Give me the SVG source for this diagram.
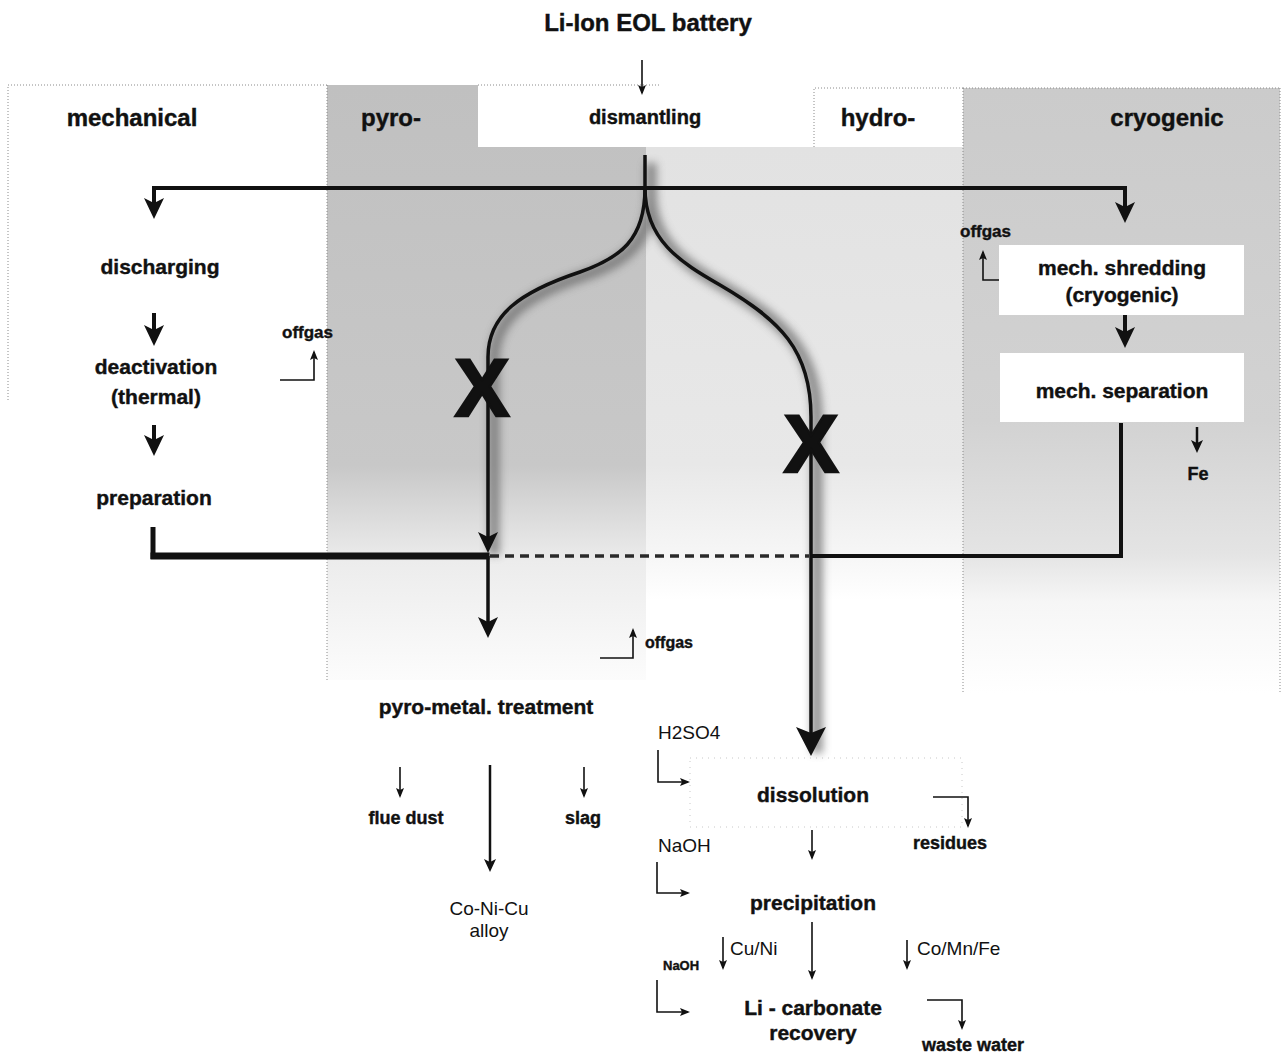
<svg xmlns="http://www.w3.org/2000/svg" width="1282" height="1054" viewBox="0 0 1282 1054">
<defs>
  <style>
    .b { font-family: "Liberation Sans", Arial, sans-serif; font-weight: bold; fill: #111; stroke: #111; stroke-width: 0.4; }
    .r { font-family: "Liberation Sans", Arial, sans-serif; font-weight: normal; fill: #111; }
    .mid { text-anchor: middle; }
    .x { stroke-width: 2.5; }
    .dot { fill: none; stroke: #8a8a8a; stroke-width: 1; stroke-dasharray: 1 2; }
    .thick { fill: none; stroke: #111; stroke-width: 4; }
    .main { fill: none; stroke: #111; stroke-width: 3.5; }
    .thin { fill: none; stroke: #111; stroke-width: 1.6; }
    .med { fill: none; stroke: #111; stroke-width: 2.5; }
  </style>
  <linearGradient id="gPyro" gradientUnits="userSpaceOnUse" x1="0" y1="85" x2="0" y2="680">
    <stop offset="0" stop-color="#c0c0c0"/>
    <stop offset="0.64" stop-color="#c8c8c8"/>
    <stop offset="0.80" stop-color="#ececec"/>
    <stop offset="1" stop-color="#fcfcfc"/>
  </linearGradient>
  <linearGradient id="gHydro" gradientUnits="userSpaceOnUse" x1="0" y1="147" x2="0" y2="600">
    <stop offset="0" stop-color="#e2e2e2"/>
    <stop offset="0.7" stop-color="#e8e8e8"/>
    <stop offset="0.9" stop-color="#f6f6f6"/>
    <stop offset="1" stop-color="#ffffff"/>
  </linearGradient>
  <linearGradient id="gCryo" gradientUnits="userSpaceOnUse" x1="0" y1="88" x2="0" y2="693">
    <stop offset="0" stop-color="#cbcbcb"/>
    <stop offset="0.55" stop-color="#d2d2d2"/>
    <stop offset="0.77" stop-color="#e4e4e4"/>
    <stop offset="0.85" stop-color="#f6f6f6"/>
    <stop offset="1" stop-color="#ffffff"/>
  </linearGradient>
  <filter id="blur" x="-50%" y="-50%" width="200%" height="200%">
    <feGaussianBlur stdDeviation="4"/>
  </filter>
  <marker id="ah" markerUnits="userSpaceOnUse" markerWidth="22" markerHeight="22" refX="12" refY="11" orient="auto">
    <path d="M0,1 L21,11 L0,21 L5,11 z" fill="#111"/>
  </marker>
  <marker id="ahuge" markerUnits="userSpaceOnUse" markerWidth="30" markerHeight="32" refX="18" refY="16" orient="auto">
    <path d="M0,1 L29,16 L0,31 L6,16 z" fill="#111"/>
  </marker>
  <marker id="am" markerUnits="userSpaceOnUse" markerWidth="14" markerHeight="14" refX="9" refY="7" orient="auto">
    <path d="M0,1 L13,7 L0,13 L3,7 z" fill="#111"/>
  </marker>
  <marker id="at" markerUnits="userSpaceOnUse" markerWidth="10" markerHeight="10" refX="8" refY="5" orient="auto">
    <path d="M0,1 L10,5 L0,9 L2,5 z" fill="#111"/>
  </marker>
</defs>

<rect x="0" y="0" width="1282" height="1054" fill="#ffffff"/>

<g id="background">
  <polygon points="327,85 478,85 478,147 646,147 646,680 327,680" fill="url(#gPyro)"/>
  <rect x="646" y="147" width="317" height="453" fill="url(#gHydro)"/>
  <rect x="963" y="88" width="317" height="605" fill="url(#gCryo)"/>
  <path class="dot" d="M8,400 L8,85 L327,85"/>
  <path class="dot" d="M327,85 L327,680"/>
  <path class="dot" d="M478,85 L660,85"/>
  <path class="dot" d="M814,147 L814,88 L963,88"/>
  <path class="dot" d="M963,88 L1280,88 M963,88 L963,693 M1280,88 L1280,693"/>
  <rect x="690" y="758" width="272" height="69" fill="none" stroke="#c8c8c8" stroke-width="1" stroke-dasharray="1 5"/>
</g>

<g id="column-labels">
  <text class="b mid" x="132" y="126" font-size="24">mechanical</text>
  <text class="b mid" x="391" y="126" font-size="24">pyro-</text>
  <text class="b mid" x="878" y="126" font-size="24">hydro-</text>
  <text class="b mid" x="1167" y="126" font-size="24">cryogenic</text>
</g>

<g id="connectors">
  <g filter="url(#blur)" opacity="0.75" transform="translate(6,3)">
    <path d="M645,160 L645,188 C645,240 620,258 580,272 C520,292 488,315 488,357 L488,552" fill="none" stroke="#6a6a6a" stroke-width="11"/>
    <path d="M645,188 C645,240 680,262 720,285 C780,320 811,350 811,417 L811,750" fill="none" stroke="#6a6a6a" stroke-width="11"/>
  </g>
  <line class="thin" x1="642" y1="60" x2="642" y2="93" marker-end="url(#at)"/>
  <line class="main" x1="645" y1="155" x2="645" y2="190"/>
  <line class="thick" x1="152" y1="188" x2="1127" y2="188"/>
  <line class="thick" x1="154" y1="186" x2="154" y2="210" marker-end="url(#ah)"/>
  <line class="thick" x1="1125" y1="186" x2="1125" y2="214" marker-end="url(#ah)"/>
  <line class="thick" x1="154" y1="313" x2="154" y2="337" marker-end="url(#ah)"/>
  <line class="thick" x1="154" y1="425" x2="154" y2="447" marker-end="url(#ah)"/>
  <line x1="153" y1="527" x2="153" y2="559" stroke="#111" stroke-width="5"/>
  <rect x="150.5" y="552.5" width="339" height="7" fill="#111"/>
  <path class="thin" d="M280,380 L314,380 L314,352" marker-end="url(#at)"/>
  <path class="main" d="M645,188 C645,240 620,258 580,272 C520,292 488,315 488,357 L488,544" marker-end="url(#ah)"/>
  <line class="main" x1="488" y1="556" x2="488" y2="629" marker-end="url(#ah)"/>
  <path class="main" d="M645,188 C645,240 680,262 720,285 C780,320 811,350 811,417 L811,745" stroke-width="4" marker-end="url(#ahuge)"/>
  <line x1="490" y1="556" x2="809" y2="556" stroke="#2a2a2a" stroke-width="3.5" stroke-dasharray="9 6"/>
  <path class="thick" d="M811,556 L1121,556 L1121,423"/>
  <line class="thick" x1="1125" y1="315" x2="1125" y2="339" marker-end="url(#ah)"/>
  <line class="med" x1="1197" y1="427" x2="1197" y2="449" marker-end="url(#am)"/>
  <path class="thin" d="M1017,280 L983,280 L983,252" marker-end="url(#at)"/>
  <path class="thin" d="M600,658 L633,658 L633,630" marker-end="url(#at)"/>
  <line class="thin" x1="400" y1="767" x2="400" y2="796" marker-end="url(#at)"/>
  <line class="thin" x1="584" y1="767" x2="584" y2="796" marker-end="url(#at)"/>
  <line class="med" x1="490" y1="765" x2="490" y2="868" marker-end="url(#am)"/>
  <path class="thin" d="M658,750 L658,782 L688,782" marker-end="url(#at)"/>
  <path class="thin" d="M657,862 L657,893 L688,893" marker-end="url(#at)"/>
  <path class="thin" d="M657,980 L657,1012 L688,1012" marker-end="url(#at)"/>
  <path class="thin" d="M933,797 L968,797 L968,826" marker-end="url(#at)"/>
  <path class="thin" d="M927,1000 L962,1000 L962,1028" marker-end="url(#at)"/>
  <line class="thin" x1="812" y1="830" x2="812" y2="858" marker-end="url(#at)"/>
  <line class="thin" x1="812" y1="922" x2="812" y2="978" marker-end="url(#at)"/>
  <line class="thin" x1="723" y1="937" x2="723" y2="968" marker-end="url(#at)"/>
  <line class="thin" x1="907" y1="940" x2="907" y2="968" marker-end="url(#at)"/>
  <text class="b mid x" x="482" y="416" font-size="82">X</text>
  <text class="b mid x" x="811" y="472" font-size="82">X</text>
</g>

<g id="node-title"><text class="b mid" x="648" y="31" font-size="24">Li-Ion EOL battery</text></g>
<g id="node-dismantling"><text class="b mid" x="645" y="124" font-size="20">dismantling</text></g>
<g id="node-discharging"><text class="b mid" x="160" y="274" font-size="21">discharging</text></g>
<g id="node-deactivation">
  <text class="b mid" x="156" y="374" font-size="21">deactivation</text>
  <text class="b mid" x="156" y="404" font-size="21">(thermal)</text>
</g>
<g id="node-preparation"><text class="b mid" x="154" y="505" font-size="21">preparation</text></g>
<g id="node-offgas-mech"><text class="b" x="282" y="338" font-size="17">offgas</text></g>
<g id="node-shredding">
  <rect x="999" y="245" width="245" height="70" fill="#ffffff"/>
  <text class="b mid" x="1122" y="275" font-size="21">mech. shredding</text>
  <text class="b mid" x="1122" y="302" font-size="21">(cryogenic)</text>
</g>
<g id="node-offgas-cryo"><text class="b" x="960" y="237" font-size="17">offgas</text></g>
<g id="node-separation">
  <rect x="1000" y="353" width="244" height="69" fill="#ffffff"/>
  <text class="b mid" x="1122" y="398" font-size="21">mech. separation</text>
</g>
<g id="node-fe"><text class="b mid" x="1198" y="480" font-size="18">Fe</text></g>
<g id="node-offgas-pyro"><text class="b" x="645" y="648" font-size="16">offgas</text></g>
<g id="node-pyrometal"><text class="b mid" x="486" y="714" font-size="21">pyro-metal. treatment</text></g>
<g id="node-fluedust"><text class="b mid" x="406" y="824" font-size="18">flue dust</text></g>
<g id="node-slag"><text class="b mid" x="583" y="824" font-size="18">slag</text></g>
<g id="node-alloy">
  <text class="r mid" x="489" y="915" font-size="19">Co-Ni-Cu</text>
  <text class="r mid" x="489" y="937" font-size="19">alloy</text>
</g>
<g id="node-h2so4"><text class="r" x="658" y="739" font-size="19">H2SO4</text></g>
<g id="node-dissolution"><text class="b mid" x="813" y="802" font-size="21">dissolution</text></g>
<g id="node-residues"><text class="b mid" x="950" y="849" font-size="18">residues</text></g>
<g id="node-naoh1"><text class="r" x="658" y="852" font-size="19">NaOH</text></g>
<g id="node-precipitation"><text class="b mid" x="813" y="910" font-size="21">precipitation</text></g>
<g id="node-cuni"><text class="r" x="730" y="955" font-size="19">Cu/Ni</text></g>
<g id="node-comnfe"><text class="r" x="917" y="955" font-size="19">Co/Mn/Fe</text></g>
<g id="node-naoh2"><text class="b" x="663" y="970" font-size="13">NaOH</text></g>
<g id="node-licarbonate">
  <text class="b mid" x="813" y="1015" font-size="21">Li - carbonate</text>
  <text class="b mid" x="813" y="1040" font-size="21">recovery</text>
</g>
<g id="node-wastewater"><text class="b mid" x="973" y="1051" font-size="18">waste water</text></g>
</svg>
